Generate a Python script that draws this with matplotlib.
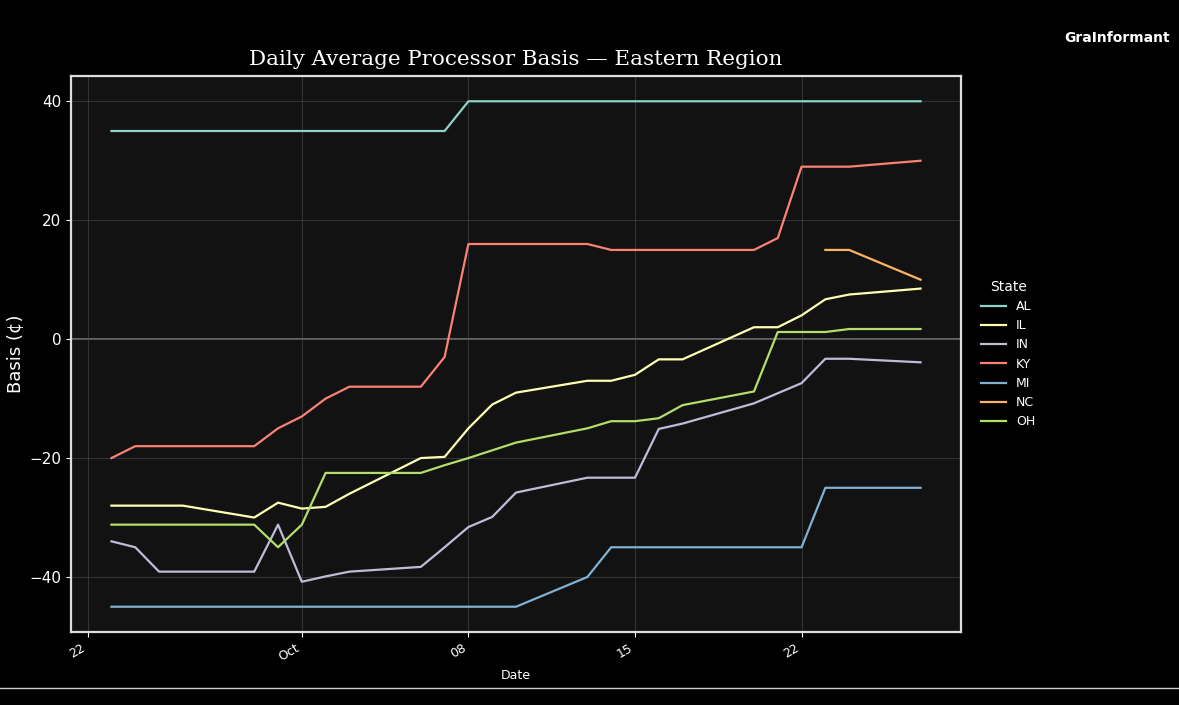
#!/usr/bin/env python3
import matplotlib
matplotlib.use("Agg")
import matplotlib.pyplot as plt
import matplotlib.dates as mdates
from matplotlib.lines import Line2D
import numpy as np
import pandas as pd

# business days, Sep 23 - Oct 27 2025
dates = pd.bdate_range("2025-09-23", "2025-10-27")

states = ["AL", "IL", "IN", "KY", "MI", "NC", "OH"]

al = [35, 35, 35, 35, 35, 35, 35, 35, 35, 35, 35, 40, 40, 40,
      40, 40, 40, 40, 40, 40, 40, 40, 40, 40, 40]
il = [-28, -28, -28, -28, -30, -27.5, -28.5, -28.2, -26, -20, -19.8, -15, -11, -9,
      -7, -7, -6, -3.4, -3.4, 2, 2, 4, 6.7, 7.5, 8.5]
in_ = [-34, -35, -39.1, -39.1, -39.1, -31.2, -40.8, -39.9, -39.1, -38.3, -35, -31.6, -29.9, -25.8,
       -23.3, -23.3, -23.3, -15.1, -14.2, -10.8, -9.1, -7.4, -3.3, -3.3, -3.9]
ky = [-20, -18, -18, -18, -18, -15, -13, -10, -8, -8, -3, 16, 16, 16,
      16, 15, 15, 15, 15, 15, 17, 29, 29, 29, 30]
mi = [-45, -45, -45, -45, -45, -45, -45, -45, -45, -45, -45, -45, -45, -45,
      -40, -35, -35, -35, -35, -35, -35, -35, -25, -25, -25]
nc = [np.nan] * 22 + [15, 15, 10]
oh = [-31.2, -31.2, -31.2, -31.2, -31.2, -35, -31.2, -22.5, -22.5, -22.5, -21.2, -20, -18.7, -17.4,
      -15, -13.8, -13.8, -13.3, -11.1, -8.8, 1.2, 1.2, 1.2, 1.7, 1.7]

series = [al, il, in_, ky, mi, nc, oh]

plt.style.use("dark_background")
fig = plt.figure(figsize=(11.79, 7.05), dpi=100)
ax = fig.add_axes([71 / 1179, 1 - 632 / 705, 890 / 1179, 556 / 705])
ax.set_facecolor("#121212")

for name, vals in zip(states, series):
    ax.plot(dates, vals, lw=1.6, label=name)

ax.axhline(0, color="#808080", lw=1.1, zorder=0.5)
ax.grid(True, color="#4a4a4a", lw=0.8, alpha=0.6)
ax.set_axisbelow(True)
for sp in ax.spines.values():
    sp.set_color("#dddddd")
    sp.set_linewidth(1.6)

loc = mdates.DayLocator(bymonthday=[1, 8, 15, 22])
fmt = mdates.ConciseDateFormatter(loc, offset_formats=[""] * 6)
ax.xaxis.set_major_locator(loc)
ax.xaxis.set_major_formatter(fmt)
for lab in ax.get_xticklabels():
    lab.set_rotation(30)
    lab.set_ha("right")
ax.tick_params(axis="x", labelsize=9)
ax.tick_params(axis="y", labelsize=11)

ax.set_title("Daily Average Processor Basis \u2014 Eastern Region",
             family="DejaVu Serif", fontsize=15.4, pad=8)
ax.set_ylabel("Basis (\u00a2)", fontsize=13)
ax.set_xlabel("Date", fontsize=9)

leg = ax.legend(title="State", loc="center left", bbox_to_anchor=(1.01, 0.5),
                frameon=False, fontsize=9, title_fontsize=10)

fig.text(0.992, 0.946, "GraInformant", ha="right", va="center",
         fontsize=10, fontweight="bold", color="white")
fig.add_artist(Line2D([0, 1], [17 / 705, 17 / 705], color="#cccccc", lw=1))

fig.savefig("out.png", dpi=100)
